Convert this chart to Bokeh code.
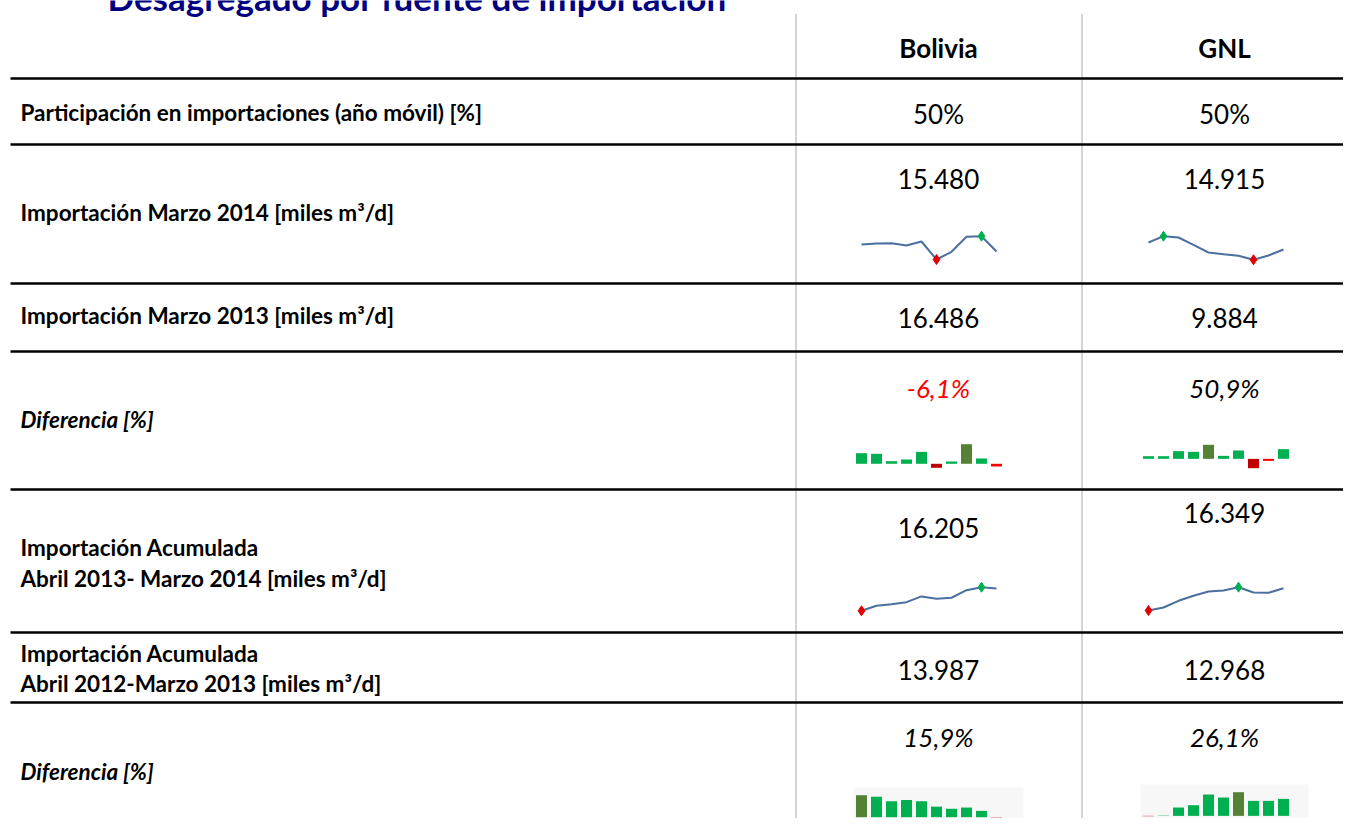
from bokeh.plotting import figure
from bokeh.models import Range1d, ColumnDataSource
from bokeh.core.properties import value
from bokeh.embed import file_html
from bokeh.resources import INLINE

# ---------------- data ----------------
title = "Desagregado por fuente de importación"
sources = ["Bolivia", "GNL"]

row_labels = [
    ["Participación en importaciones (año móvil) [%]"],
    ["Importación Marzo 2014 [miles m³/d]"],
    ["Importación Marzo 2013 [miles m³/d]"],
    ["Diferencia [%]"],
    ["Importación Acumulada", "Abril 2013- Marzo 2014 [miles m³/d]"],
    ["Importación Acumulada", "Abril 2012-Marzo 2013  [miles m³/d]"],
    ["Diferencia [%]"],
]
row_italic = [False, False, False, True, False, False, True]

participacion = ["50%", "50%"]
imp_mar14 = ["15.480", "14.915"]
imp_mar13 = ["16.486", "9.884"]
dif_mensual = ["-6,1%", "50,9%"]
acum_13_14 = ["16.205", "16.349"]
acum_12_13 = ["13.987", "12.968"]
dif_acum = ["15,9%", "26,1%"]

meses = ["Jun-13", "Jul-13", "Ago-13", "Sep-13", "Oct-13",
         "Nov-13", "Dic-13", "Ene-14", "Feb-14", "Mar-14"]

# sparkline series (miles m3/d and %)
mensual_bolivia = [16.18, 16.28, 16.31, 16.08, 16.48, 14.68, 15.45, 16.95, 17.01, 15.48]
mensual_gnl = [17.02, 18.91, 18.52, 16.33, 14.02, 13.51, 13.03, 11.83, 13.12, 14.92]
difmes_bolivia = [24.4, 22.9, 6.1, 9.9, 27.5, -9.2, 5.3, 45.0, 12.2, -6.1]
difmes_gnl = [14.0, 14.0, 40.4, 36.9, 73.7, 15.8, 43.9, -49.1, -10.5, 50.9]
acum_bolivia = [13.99, 14.49, 14.65, 14.85, 15.42, 15.19, 15.29, 16.04, 16.34, 16.21]
acum_gnl = [12.97, 13.42, 14.44, 15.20, 15.85, 16.00, 16.50, 15.70, 15.65, 16.35]
difacum_bolivia = [36.5, 34.0, 26.5, 28.5, 26.5, 17.5, 14.0, 16.0, 10.5, -0.5]
difacum_gnl = [-0.5, 0.5, 12.5, 16.0, 32.0, 27.5, 35.5, 22.5, 22.5, 25.5]

# ---------------- layout (picture pixel coordinates) ----------------
W, H = 1343, 818
OX, OY = 0, 0
col_x = [938, 1224]
rule_y = [78, 144, 283, 351, 489, 632, 702]
label_base = [[111.5], [211.5], [314.5], [418.5], [546.5, 577.5], [652.5, 682.5], [770.5]]
value_base = [[113, 113], [178.5, 178.5], [317, 317], [387.5, 387.5],
              [527, 512], [669, 669], [736.5, 736.5]]
header_base = 47.5
title_base = -4
row_values = [participacion, imp_mar14, imp_mar13, dif_mensual,
              acum_13_14, acum_12_13, dif_acum]

FONT = "Lato"
LINE_COL = "#4A6FA0"
POS, NEG, HI, LO = "#00B050", "#FF0000", "#548235", "#C00000"

p = figure(width=W, height=H, x_range=Range1d(OX, OX + W), y_range=Range1d(OY + H, OY),
           x_axis_type=None, y_axis_type=None, output_backend="svg",
           toolbar_location=None, min_border=0)
p.grid.visible = False
p.outline_line_color = None
p.background_fill_color = "white"
p.border_fill_color = "white"

# faint backgrounds behind the accumulated-difference sparklines
p.quad(left=[853, 1140], right=[1023, 1308], top=[787, 784], bottom=[826, 823],
       fill_color="#F7F7F7", line_color=None)

# dotted column separators
p.segment(x0=[795.5, 1081.5], y0=[14, 14], x1=[795.5, 1081.5], y1=[834, 834],
          line_color="#555555", line_width=1, line_dash="1 1")

# horizontal rules
p.segment(x0=[10] * len(rule_y), y0=rule_y, x1=[OX + W] * len(rule_y), y1=rule_y,
          line_color="black", line_width=2.5)

# title (cut by the top edge as in the source)
p.text(x=[107], y=[title_base], text=[title], text_font=value(FONT), text_font_size="35px",
       text_font_style="bold", text_color="#000080", text_baseline="alphabetic")

# headers
p.text(x=col_x, y=[header_base] * 2, text=sources, text_font=value(FONT),
       text_font_size="26px", text_font_style="bold", text_color="black",
       text_align="center", text_baseline="alphabetic")

# row labels
lx, ly, lt, ls = [], [], [], []
for labels, bases, it in zip(row_labels, label_base, row_italic):
    for t, b in zip(labels, bases):
        lx.append(20); ly.append(b); lt.append(t)
        ls.append("bold italic" if it else "bold")
p.text(x="x", y="y", text="t", source=ColumnDataSource(dict(x=lx, y=ly, t=lt, s=ls)),
       text_font=value(FONT), text_font_size="22.5px", text_font_style={"field": "s"},
       text_color="black", text_baseline="alphabetic")

# values
vx, vy, vt, vs, vc = [], [], [], [], []
for vals, bases, it in zip(row_values, value_base, row_italic):
    for cx, t, b in zip(col_x, vals, bases):
        vx.append(cx); vy.append(b); vt.append(t)
        vs.append("italic" if it else "normal")
        vc.append(NEG if t.startswith("-") else "black")
p.text(x="x", y="y", text="t", source=ColumnDataSource(dict(x=vx, y=vy, t=vt, s=vs, c=vc)),
       text_font=value(FONT), text_font_size="26px", text_font_style={"field": "s"},
       text_color="c", text_align="center", text_baseline="alphabetic")

# ---------------- sparklines ----------------
extra_x, extra_y = {}, {}


def add_ranges(name, n, lo, hi, x0, x1, ytop, ybot):
    kx = (n - 1) / (x1 - x0)
    xs = -(x0 - OX) * kx
    extra_x[name] = Range1d(xs, xs + W * kx)
    ky = (hi - lo) / (ybot - ytop)
    ys = lo - (OY + H - ybot) * ky
    extra_y[name] = Range1d(ys, ys + H * ky)


def line_spark(name, vals, x0, x1, ytop, ybot):
    add_ranges(name, len(vals), min(vals), max(vals), x0, x1, ytop, ybot)
    idx = list(range(len(meses)))
    p.line(idx, vals, line_color=LINE_COL, line_width=2,
           x_range_name=name, y_range_name=name)
    imax = vals.index(max(vals)); imin = vals.index(min(vals))
    p.scatter([imax], [vals[imax]], marker="diamond", size=10, color=POS,
              x_range_name=name, y_range_name=name)
    p.scatter([imin], [vals[imin]], marker="diamond", size=10, color="#E00000",
              x_range_name=name, y_range_name=name)


def bar_spark(name, vals, x0, x1, ytop, ybot):
    lo, hi = min(min(vals), 0), max(max(vals), 0)
    add_ranges(name, len(vals), lo, hi, x0, x1, ytop, ybot)
    mx, mn = max(vals), min(vals)
    cols = [HI if v == mx else LO if v == mn else NEG if v < 0 else POS for v in vals]
    src = ColumnDataSource(dict(x=list(range(len(meses))), top=vals, c=cols, m=meses))
    p.vbar(x="x", top="top", bottom=0, width=0.73, fill_color="c", line_color=None,
           source=src, x_range_name=name, y_range_name=name)


line_spark("mes_bol", mensual_bolivia, 861, 996, 235.7, 259.0)
line_spark("mes_gnl", mensual_gnl, 1148, 1283, 235.7, 259.3)
bar_spark("dm_bol", difmes_bolivia, 861, 996, 443.7, 467.3)
bar_spark("dm_gnl", difmes_gnl, 1148, 1283, 444.3, 467.7)
line_spark("ac_bol", acum_bolivia, 861, 996, 586.7, 610.3)
line_spark("ac_gnl", acum_gnl, 1148, 1283, 586.7, 610.0)
bar_spark("da_bol", difacum_bolivia, 861, 996, 794.7, 817.0)
bar_spark("da_gnl", difacum_gnl, 1148, 1283, 791.7, 815.7)

p.extra_x_ranges = extra_x
p.extra_y_ranges = extra_y

open("out.html", "w").write(file_html(p, INLINE))
